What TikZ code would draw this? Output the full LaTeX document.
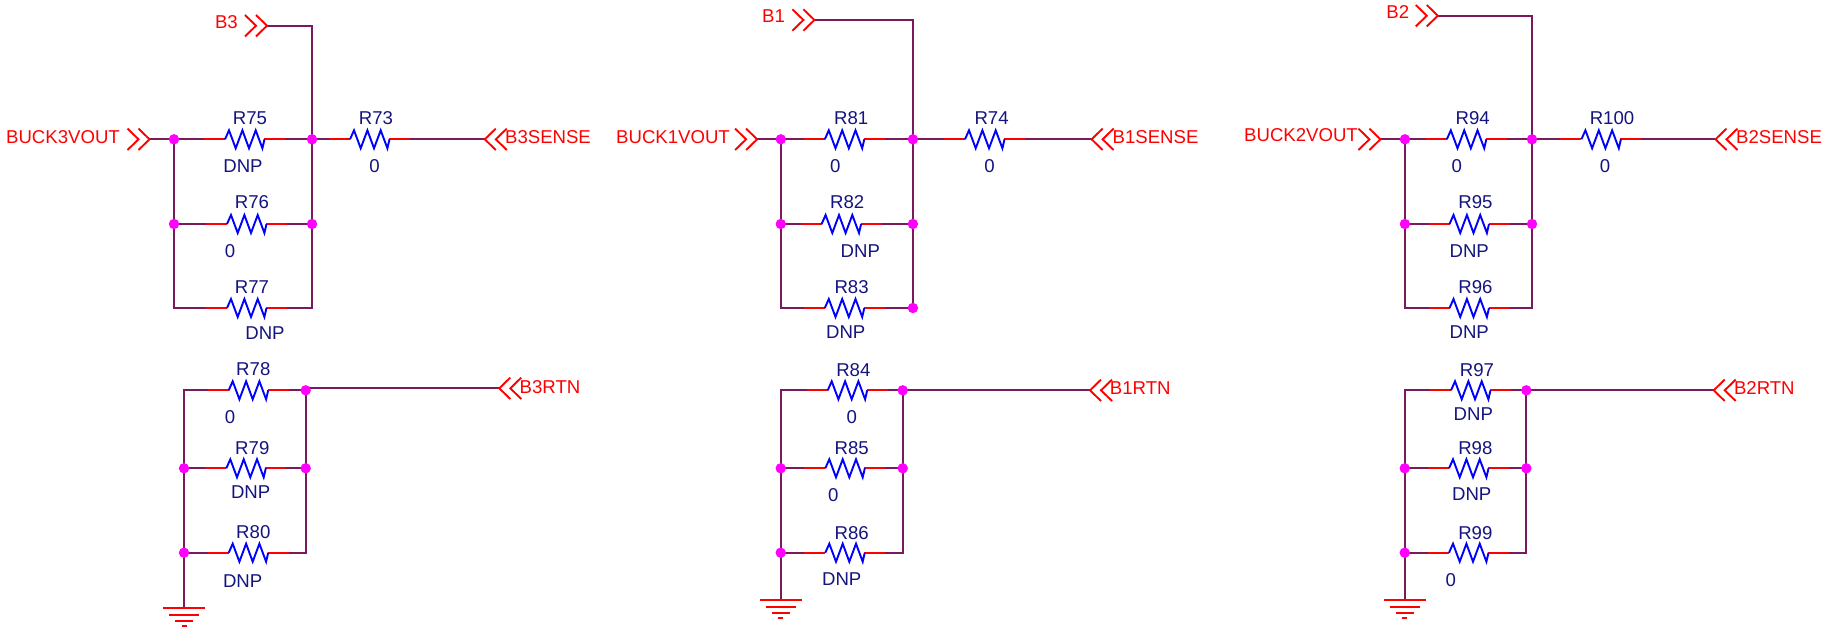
\documentclass[tikz,border=0pt]{standalone}
\usepackage{fontspec}
\setmainfont{Liberation Sans}
\definecolor{wirecol}{HTML}{7A1A5C}
\definecolor{valcol}{HTML}{14147F}
\definecolor{dotcol}{HTML}{FF00FF}
\tikzset{
  wire/.style={draw=wirecol, line width=2pt, line join=miter},
  pinline/.style={draw=red, line width=2pt},
  zigline/.style={draw=blue, line width=1.9pt, line join=miter},
  netlabel/.style={text=red, inner sep=0pt, font=\fontsize{18.6}{20}\selectfont},
  partlabel/.style={text=valcol, inner sep=0pt, font=\fontsize{18.6}{20}\selectfont},
  chevr/.pic={
    \draw[draw=red, line width=1.9pt] (-22,-10.7) -- (-11,0) -- (-22,10.7);
    \draw[draw=red, line width=1.9pt] (-11,-10.7) -- (0,0) -- (-11,10.7);
  },
  earth/.pic={
    \draw[pinline] (-21.2,0) -- (21.2,0);
    \draw[pinline] (-15,6.4) -- (15,6.4);
    \draw[pinline] (-8.8,12.7) -- (8.8,12.7);
    \draw[pinline] (-2.5,18) -- (2.5,18);
  }
}

\begin{document}
\begin{tikzpicture}[x=1pt, y=-1pt]
  \useasboundingbox (0,0) rectangle (1838,627);

  % 网络端点
  \coordinate (B3in) at (267,25.7);
  \coordinate (B1in) at (814.4,20);
  \coordinate (B2in) at (1437.8,15.7);
  \coordinate (V3out) at (149.5,139.3);
  \coordinate (V1out) at (757.1,139.3);
  \coordinate (V2out) at (1380.4,139.3);
  \coordinate (B3sense) at (484.8,139.3);
  \coordinate (B1sense) at (1091.6,139.3);
  \coordinate (B2sense) at (1715.5,139.3);
  \coordinate (B3rtn) at (499.3,388.3);
  \coordinate (B1rtn) at (1090,390.3);
  \coordinate (B2rtn) at (1713.7,390.3);
  \coordinate (B3gnd) at (184,608.3);
  \coordinate (B1gnd) at (780.7,600.3);
  \coordinate (B2gnd) at (1404.7,600.3);

  % 节点: 左列与右列
  \foreach \g/\l/\r in {B3/174/312, B1/780.8/912.9, B2/1404.9/1532} {
    \coordinate (\g l1) at (\l,139.3);
    \coordinate (\g l2) at (\l,224);
    \coordinate (\g l3) at (\l,308);
    \coordinate (\g r1) at (\r,139.3);
    \coordinate (\g r2) at (\r,224);
    \coordinate (\g r3) at (\r,308);
  }
  \foreach \g/\l/\r in {B3/184/305.7, B1/780.7/902.7, B2/1404.7/1526.3} {
    \coordinate (\g m1) at (\l,390.3);
    \coordinate (\g m2) at (\l,468.3);
    \coordinate (\g m3) at (\l,552.7);
    \coordinate (\g n1) at (\r,390.3);
    \coordinate (\g n2) at (\r,468.3);
    \coordinate (\g n3) at (\r,552.7);
  }
  \coordinate (B3turn) at (305.7,388.3);

  % 电阻符号: 名称/起点x/y/名称x/名称y/阻值/阻值x/阻值y
  \foreach \n/\x/\y/\nx/\ny/\v/\vx/\vy in {
    R75/204/139.3/250/118.3/DNP/243/165.7,
    R76/206/224/252/202.3/0/230/250.7,
    R77/206/308/252/287.5/DNP/265/333,
    R73/329/139.3/376/118.3/0/374.5/165.7,
    R78/207.7/390.3/253.3/369.5/0/230/416.7,
    R79/205.3/468.3/252.3/447.7/DNP/250.7/492.3,
    R80/207.7/552.7/253.3/532.2/DNP/242.7/581.3,
    R81/803.8/139.3/851.2/118.3/0/835.4/165.7,
    R82/800.6/224/847.2/202.3/DNP/860.3/250.7,
    R83/803.8/308/851.6/287.3/DNP/845.7/332.3,
    R74/944/139.3/991.6/118.3/0/989.6/165.7,
    R84/806.7/390.3/853.3/370/0/851.7/416.7,
    R85/804.3/468.3/851.7/447.7/0/833.3/494.7,
    R86/804.3/552.7/851.7/532.7/DNP/841.7/579.3,
    R94/1425.8/139.3/1472.7/118.3/0/1456.8/165.7,
    R95/1428.5/224/1475.4/202.3/DNP/1469.2/250.7,
    R96/1428.5/308/1475.4/287.3/DNP/1469.2/332.3,
    R100/1560.4/139.3/1612/118.3/0/1605/165.7,
    R97/1430/390.3/1477/370/DNP/1473.3/414.3,
    R98/1428/468.3/1475.3/447.7/DNP/1471.7/494.3,
    R99/1428/552.7/1475.3/532.7/0/1450.7/579.7} {
    \coordinate (\n a) at (\x,\y);
    \coordinate (\n b) at ([xshift=81pt]\n a);
    \node[partlabel] (\n name) at (\nx,\ny) {\n};
    \node[partlabel] (\n val) at (\vx,\vy) {\v};
  }

  % 走线
  \draw[wire] (B3in) -| (B3r1);
  \draw[wire] (B3r1) -- (B3r2) -- (B3r3) -- (R77b);
  \draw[wire] (V3out) -- (B3l1) -- (R75a);
  \draw[wire] (R75b) -- (B3r1) -- (R73a);
  \draw[wire] (R73b) -- (B3sense);
  \draw[wire] (B3l1) -- (B3l2) -- (B3l3) -- (R77a);
  \draw[wire] (B3l2) -- (R76a);
  \draw[wire] (R76b) -- (B3r2);
  \draw[wire] (R78a) -- (B3m1) -- (B3m2) -- (B3m3) -- (B3gnd);
  \draw[wire] (B3m2) -- (R79a);
  \draw[wire] (B3m3) -- (R80a);
  \draw[wire] (R78b) -- (B3n1);
  \draw[wire] (B3turn) -- (B3n2) -- (B3n3) -- (R80b);
  \draw[wire] (R79b) -- (B3n2);
  \draw[wire] (B3turn) -- (B3rtn);

  \draw[wire] (B1in) -| (B1r1);
  \draw[wire] (B1r1) -- (B1r2) -- (B1r3) -- (R83b);
  \draw[wire] (V1out) -- (B1l1) -- (R81a);
  \draw[wire] (R81b) -- (B1r1) -- (R74a);
  \draw[wire] (R74b) -- (B1sense);
  \draw[wire] (B1l1) -- (B1l2) -- (B1l3) -- (R83a);
  \draw[wire] (B1l2) -- (R82a);
  \draw[wire] (R82b) -- (B1r2);
  \draw[wire] (R84a) -- (B1m1) -- (B1m2) -- (B1m3) -- (B1gnd);
  \draw[wire] (B1m2) -- (R85a);
  \draw[wire] (B1m3) -- (R86a);
  \draw[wire] (R84b) -- (B1n1) -- (B1n2) -- (B1n3) -- (R86b);
  \draw[wire] (R85b) -- (B1n2);
  \draw[wire] (B1n1) -- (B1rtn);

  \draw[wire] (B2in) -| (B2r1);
  \draw[wire] (B2r1) -- (B2r2) -- (B2r3) -- (R96b);
  \draw[wire] (V2out) -- (B2l1) -- (R94a);
  \draw[wire] (R94b) -- (B2r1) -- (R100a);
  \draw[wire] (R100b) -- (B2sense);
  \draw[wire] (B2l1) -- (B2l2) -- (B2l3) -- (R96a);
  \draw[wire] (B2l2) -- (R95a);
  \draw[wire] (R95b) -- (B2r2);
  \draw[wire] (R97a) -- (B2m1) -- (B2m2) -- (B2m3) -- (B2gnd);
  \draw[wire] (B2m2) -- (R98a);
  \draw[wire] (B2m3) -- (R99a);
  \draw[wire] (R97b) -- (B2n1) -- (B2n2) -- (B2n3) -- (R99b);
  \draw[wire] (R98b) -- (B2n2);
  \draw[wire] (B2n1) -- (B2rtn);

  % 电阻本体
  \foreach \n in {R75,R76,R77,R73,R78,R79,R80,R81,R82,R83,R74,R84,R85,R86,R94,R95,R96,R100,R97,R98,R99} {
    \draw[pinline] (\n a) -- ++(21,0);
    \draw[pinline] (\n b) -- ++(-21,0);
    \draw[zigline] ([xshift=21pt]\n a) -- ++(4,-9) -- ++(6.7,18) -- ++(6.7,-18)
      -- ++(6.6,18) -- ++(6.7,-18) -- ++(6.7,18) -- ++(2.1,-9);
  }

  % 接点
  \foreach \p in {B3l1,B3l2,B3r1,B3r2,B3m2,B3m3,B3n1,B3n2,
                  B1l1,B1l2,B1r1,B1r2,B1r3,B1m2,B1m3,B1n1,B1n2,
                  B2l1,B2l2,B2r1,B2r2,B2m2,B2m3,B2n1,B2n2}
    \fill[dotcol] (\p) circle (5.2pt);

  % 端口符号
  \foreach \p in {B3in,B1in,B2in,V3out,V1out,V2out}
    \path (\p) pic {chevr};
  \foreach \p in {B3sense,B1sense,B2sense,B3rtn,B1rtn,B2rtn}
    \path (\p) pic[xscale=-1] {chevr};
  \foreach \p in {B3gnd,B1gnd,B2gnd}
    \path (\p) pic {earth};

  % 标签
  \node[netlabel] (B3tag) at (226.4,21.7) {B3};
  \node[netlabel] (B1tag) at (773.5,15.7) {B1};
  \node[netlabel] (B2tag) at (1397.7,11.7) {B2};
  \node[netlabel] (V3tag) at (63,136.7) {BUCK3VOUT};
  \node[netlabel] (V1tag) at (673,136.7) {BUCK1VOUT};
  \node[netlabel] (V2tag) at (1301,134.7) {BUCK2VOUT};
  \node[netlabel] (B3sensetag) at (548,136.7) {B3SENSE};
  \node[netlabel] (B1sensetag) at (1155.5,136.7) {B1SENSE};
  \node[netlabel] (B2sensetag) at (1779,136.7) {B2SENSE};
  \node[netlabel] (B3rtntag) at (550,386.7) {B3RTN};
  \node[netlabel] (B1rtntag) at (1140.3,388.3) {B1RTN};
  \node[netlabel] (B2rtntag) at (1764.3,388.3) {B2RTN};
\end{tikzpicture}
\end{document}
